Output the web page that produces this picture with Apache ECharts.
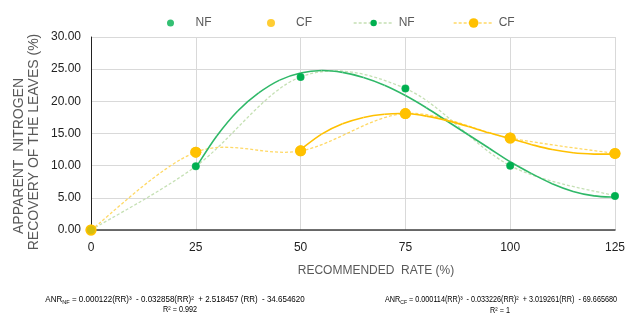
<!DOCTYPE html>
<html>
<head>
<meta charset="utf-8">
<script src="https://cdn.jsdelivr.net/npm/echarts@6/dist/echarts.min.js"></script>
<style>
  html, body { margin: 0; padding: 0; background: #fff; }
  #chart { width: 628px; height: 320px; }
</style>
</head>
<body>
<div id="chart"></div>
<script>
// recommended rate (%) and measured ANR of the leaves (%)
var rates = [0, 25, 50, 75, 100, 125];
var nfValues = [0, 9.9, 23.8, 22.0, 10.0, 5.3];
var cfValues = [0, 12.1, 12.3, 18.1, 14.3, 11.9];

// fitted curves
var nfTrendX = [25, 30, 35, 40, 45, 50, 55, 60, 65, 70, 75, 80, 85, 90, 95, 100, 105, 110, 115, 120, 125];
var nfTrendY = [9.7, 14.6, 18.5, 21.3, 23.3, 24.4, 24.8, 24.5, 23.7, 22.5, 20.9, 19.0, 16.9, 14.8, 12.7, 10.6, 8.8, 7.2, 6.0, 5.3, 5.1];
var cfTrendX = [50, 55, 60, 65, 70, 75, 80, 85, 90, 95, 100, 105, 110, 115, 120, 125];
var cfTrendY = [12.5, 14.9, 16.5, 17.5, 18.0, 18.1, 17.7, 17.0, 16.1, 15.1, 14.2, 13.3, 12.5, 12.0, 11.8, 11.8];

var green = '#00b050';
var yellow = '#ffc000';
var nfDot = '#c5e0b4';
var cfDot = '#ffd966';
var gray = '#595959';
var font = 'Liberation Sans, Arial, sans-serif';

function pairs(xs, ys) {
    return xs.map(function (x, i) { return [x, ys[i]]; });
}

// excel-like smooth line: one bezier per segment, tangents from the neighbours
function smoothCurve(xs, ys, color, width, dash, z) {
    var n = xs.length;
    return {
        type: 'custom',
        silent: true,
        z: z,
        encode: { x: 0, y: 1 },
        data: pairs(xs, ys),
        renderItem: function (params, api) {
            var i = params.dataIndex;
            if (i >= n - 1) return null;
            var p = function (k) {
                k = Math.max(0, Math.min(n - 1, k));
                return api.coord([xs[k], ys[k]]);
            };
            var p0 = p(i - 1), p1 = p(i), p2 = p(i + 1), p3 = p(i + 2);
            return {
                type: 'bezierCurve',
                shape: {
                    x1: p1[0], y1: p1[1], x2: p2[0], y2: p2[1],
                    cpx1: p1[0] + (p2[0] - p0[0]) / 6,
                    cpy1: p1[1] + (p2[1] - p0[1]) / 6,
                    cpx2: p2[0] - (p3[0] - p1[0]) / 6,
                    cpy2: p2[1] - (p3[1] - p1[1]) / 6
                },
                style: { stroke: color, lineWidth: width, lineDash: dash, fill: null }
            };
        }
    };
}

function oneLegend(left, name, h, extra) {
    var item = { name: name };
    for (var k in extra) item[k] = extra[k];
    return {
        top: 12,
        left: left,
        itemWidth: 40,
        itemHeight: h,
        textStyle: { color: gray, fontSize: 12, fontFamily: font },
        formatter: function (n) { return n.split('_')[0]; },
        data: [item]
    };
}

var myChart = echarts.init(document.getElementById('chart'));

var option = {
    backgroundColor: '#fff',
    animation: false,
    textStyle: { fontFamily: font },
    legend: [
        oneLegend(162, 'NF_pts', 7, { icon: 'circle' }),
        oneLegend(262, 'CF_pts', 8, { icon: 'circle' }),
        oneLegend(348, 'NF_line', 8, { lineStyle: { color: nfDot, width: 1.3, type: [3, 2], opacity: 1 } }),
        oneLegend(448, 'CF_line', 12, { lineStyle: { color: cfDot, width: 1.3, type: [3, 2], opacity: 1 } })
    ],
    grid: { left: 91, right: 8, top: 37, bottom: 90 },
    xAxis: {
        type: 'value',
        min: 0,
        max: 125,
        interval: 25,
        axisLine: { lineStyle: { color: '#404040', width: 1.5 } },
        axisTick: { show: false },
        axisLabel: { color: '#222', fontSize: 12, margin: 12, fontFamily: font },
        splitLine: { lineStyle: { color: '#d9d9d9', width: 1 } }
    },
    yAxis: {
        type: 'value',
        min: 0,
        max: 30,
        interval: 5,
        axisLine: { show: true, lineStyle: { color: '#222', width: 1 } },
        axisTick: { show: false },
        axisLabel: {
            color: '#222', fontSize: 12, margin: 10, fontFamily: font,
            formatter: function (v) { return v.toFixed(2); }
        },
        splitLine: { lineStyle: { color: '#d9d9d9', width: 1 } }
    },
    graphic: [
        {
            type: 'text',
            x: 19, y: 156,
            rotation: Math.PI / 2,
            style: { text: 'APPARENT  NITROGEN', font: '14px ' + font, fill: gray, align: 'center', verticalAlign: 'middle' }
        },
        {
            type: 'text',
            x: 34, y: 142,
            rotation: Math.PI / 2,
            style: { text: 'RECOVERY OF THE LEAVES (%)', font: '14px ' + font, fill: gray, align: 'center', verticalAlign: 'middle' }
        },
        {
            type: 'text',
            x: 376, y: 271,
            style: { text: 'RECOMMENDED  RATE (%)', font: '12px ' + font, fill: gray, align: 'center', verticalAlign: 'middle' }
        },
        {
            type: 'text',
            x: 175, y: 300,
            scaleX: 0.94,
            style: {
                text: '{a|ANR}{s|NF}{a| = 0.000122(RR)³  - 0.032858(RR)²  + 2.518457 (RR)  - 34.654620}',
                align: 'center',
                verticalAlign: 'middle',
                fill: '#000',
                rich: {
                    a: { fontSize: 8.5, fontFamily: font, fill: '#000' },
                    s: { fontSize: 6, fontFamily: font, fill: '#000', verticalAlign: 'bottom', padding: [4, 0, 0, 0] }
                }
            }
        },
        {
            type: 'text',
            x: 180, y: 310,
            scaleX: 0.85,
            style: { text: 'R² = 0.992', font: '8.5px ' + font, fill: '#000', align: 'center', verticalAlign: 'middle' }
        },
        {
            type: 'text',
            x: 501, y: 300,
            scaleX: 0.85,
            style: {
                text: '{a|ANR}{s|CF}{a| = 0.000114(RR)³  - 0.033226(RR)²  + 3.019261(RR)  - 69.665680}',
                align: 'center',
                verticalAlign: 'middle',
                fill: '#000',
                rich: {
                    a: { fontSize: 8.5, fontFamily: font, fill: '#000' },
                    s: { fontSize: 6, fontFamily: font, fill: '#000', verticalAlign: 'bottom', padding: [4, 0, 0, 0] }
                }
            }
        },
        {
            type: 'text',
            x: 500, y: 311,
            scaleX: 0.85,
            style: { text: 'R² = 1', font: '8.5px ' + font, fill: '#000', align: 'center', verticalAlign: 'middle' }
        }
    ],
    series: [
        smoothCurve(nfTrendX, nfTrendY, '#2fb868', 1.6, null, 2),
        smoothCurve(cfTrendX, cfTrendY, yellow, 1.6, null, 2),
        smoothCurve(rates, nfValues, nfDot, 1.3, [3, 2], 1),
        smoothCurve(rates, cfValues, cfDot, 1.3, [3, 2], 1),
        {
            name: 'NF_line',
            type: 'line',
            data: pairs(rates, nfValues),
            symbol: 'circle',
            symbolSize: 7,
            itemStyle: { color: green },
            lineStyle: { color: nfDot, opacity: 0 },
            z: 3
        },
        {
            name: 'CF_line',
            type: 'line',
            data: pairs(rates, cfValues),
            symbol: 'circle',
            symbolSize: 11,
            itemStyle: { color: yellow },
            lineStyle: { color: cfDot, opacity: 0 },
            z: 3
        },
        {
            name: 'NF_pts',
            type: 'scatter',
            data: pairs(rates, nfValues),
            symbolSize: 8,
            itemStyle: { color: green },
            z: 4
        },
        {
            name: 'CF_pts',
            type: 'scatter',
            data: pairs(rates, cfValues),
            symbolSize: 11,
            itemStyle: { color: yellow },
            z: 5
        }
    ]
};

myChart.setOption(option);
</script>
</body>
</html>
